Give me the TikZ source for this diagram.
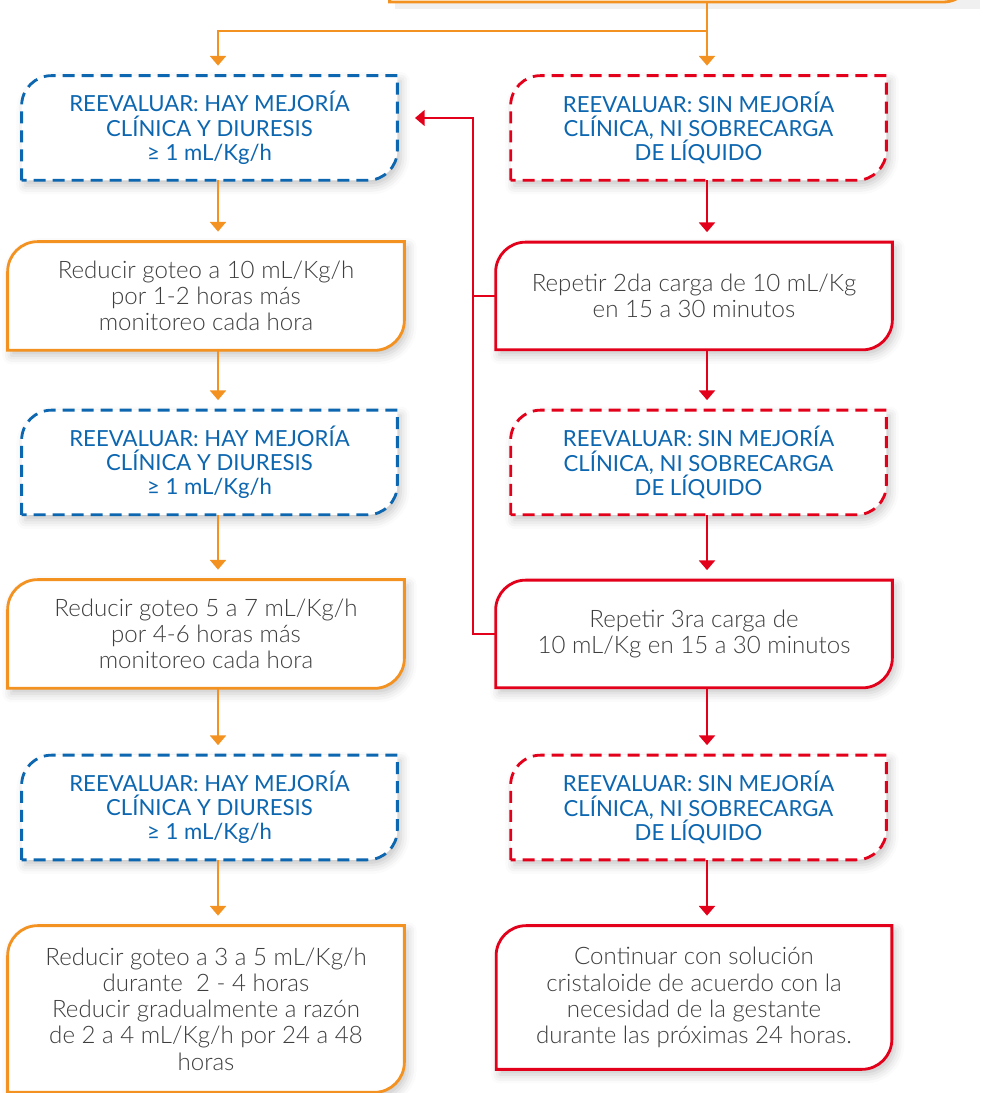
\documentclass[tikz,border=0pt]{standalone}
\usepackage{fontspec}
\setmainfont{Lato}
\newfontfamily\lightfont{Lato Light}
\usepackage{tikz}
\usetikzlibrary{arrows.meta,positioning,shadows.blur}

\definecolor{ordorange}{RGB}{243,146,32}
\definecolor{ordred}{RGB}{226,0,26}
\definecolor{ordblue}{RGB}{12,102,176}
\definecolor{ordgrey}{RGB}{62,62,62}
\definecolor{bgtop}{RGB}{244,249,253}
\definecolor{bgbot}{RGB}{205,232,248}

\pgfdeclarelayer{back}
\pgfdeclarelayer{boxes}
\pgfsetlayers{back,boxes,main}

% outline with rounded top left and bottom right corners
\newcommand{\boxoutline}[2]{%
  \path[#1] (#2.south west) -- ([yshift=-0.6cm]#2.north west)
    arc[start angle=180, end angle=90, radius=0.6cm] -- (#2.north east)
    -- ([yshift=0.6cm]#2.south east)
    arc[start angle=0, end angle=-90, radius=0.6cm] -- cycle;}

\begin{document}
\begin{tikzpicture}[node distance=3.36cm,on grid,
    evalbox/.style={minimum width=7.5cm,minimum height=2.08cm,inner sep=0pt,
      align=center,text=ordblue,font=\fontsize{12.6}{13.8}\selectfont},
    stepbox/.style={minimum width=7.92cm,minimum height=2.16cm,inner sep=0pt,
      align=center,text=ordgrey,font=\lightfont\fontsize{13.7}{14.9}\selectfont},
    shadowed/.style={blur shadow={shadow xshift=2pt,shadow yshift=-3pt,
      shadow blur radius=5pt,shadow opacity=22}},
    blueout/.style={draw=ordblue,line width=1.6pt,dash pattern=on 6.8pt off 4pt,fill=white,shadowed},
    reddash/.style={draw=ordred,line width=1.6pt,dash pattern=on 6.8pt off 4pt,fill=white,shadowed},
    orangeout/.style={draw=ordorange,line width=1.6pt,fill=white,shadowed},
    redout/.style={draw=ordred,line width=1.6pt,fill=white,shadowed},
    topout/.style={draw=ordorange,line width=1.6pt,fill=white},
    oflow/.style={draw=ordorange,line width=1.4pt,-{Triangle[width=9pt,length=5.5pt]},shorten >=0.2cm},
    rflow/.style={draw=ordred,line width=1.4pt,-{Triangle[width=9pt,length=5.5pt]},shorten >=0.2cm},
    rback/.style={draw=ordred,line width=1.1pt}]

  \begin{pgfonlayer}{back}
    \shade[top color=bgtop,bottom color=bgbot] (0,0) rectangle (19.8,21.86);
  \end{pgfonlayer}
  \useasboundingbox (0,0) rectangle (19.8,21.86);

  \node[minimum width=11.66cm,minimum height=1cm] (top) [anchor=south] at (13.63,21.82) {};

  % left column
  \node[evalbox] (l_1) at (4.19,19.30) {REEVALUAR: HAY MEJORÍA\\CLÍNICA Y DIURESIS\\≥ 1 mL/Kg/h};
  \node[stepbox] (l_2) [below=3.36cm of l_1,xshift=-0.07cm] {Reducir goteo a 10 mL/Kg/h\\por 1-2 horas más\\monitoreo cada hora};
  \node[evalbox] (l_3) [below=3.33cm of l_2,xshift=0.07cm] {REEVALUAR: HAY MEJORÍA\\CLÍNICA Y DIURESIS\\≥ 1 mL/Kg/h};
  \node[stepbox] (l_4) [below=3.43cm of l_3,xshift=-0.07cm] {Reducir goteo 5 a 7 mL/Kg/h\\por 4-6 horas más\\monitoreo cada hora};
  \node[evalbox] (l_5) [below=3.47cm of l_4,xshift=0.07cm] {REEVALUAR: HAY MEJORÍA\\CLÍNICA Y DIURESIS\\≥ 1 mL/Kg/h};
  \node[stepbox,minimum height=3.32cm] (l_6) [below=4.03cm of l_5,xshift=-0.07cm] {Reducir goteo a 3 a 5 mL/Kg/h\\durante\ \ 2 - 4 horas\\Reducir gradualmente a razón\\de 2 a 4 mL/Kg/h por 24 a 48\\horas};

  % right column
  \node[evalbox] (r_1) at (13.97,19.30) {REEVALUAR: SIN MEJORÍA\\CLÍNICA, NI SOBRECARGA\\DE LÍQUIDO};
  \node[stepbox,minimum height=2.14cm] (r_2) [below=3.36cm of r_1,xshift=-0.09cm] {Repetir 2da carga de 10 mL/Kg\\en 15 a 30 minutos};
  \node[evalbox] (r_3) [below=3.33cm of r_2,xshift=0.09cm] {REEVALUAR: SIN MEJORÍA\\CLÍNICA, NI SOBRECARGA\\DE LÍQUIDO};
  \node[stepbox,minimum height=2.14cm] (r_4) [below=3.43cm of r_3,xshift=-0.09cm] {Repetir 3ra carga de\\10 mL/Kg en 15 a 30 minutos};
  \node[evalbox] (r_5) [below=3.47cm of r_4,xshift=0.09cm] {REEVALUAR: SIN MEJORÍA\\CLÍNICA, NI SOBRECARGA\\DE LÍQUIDO};
  \node[stepbox,minimum width=7.9cm,minimum height=2.86cm] (r_6) [below=3.80cm of r_5,xshift=-0.09cm] {Continuar con solución\\cristaloide de acuerdo con la\\necesidad de la gestante\\durante las próximas 24 horas.};

  \begin{pgfonlayer}{boxes}
    % first shadow goes off the page
    \path[shadowed] (-6,-6) rectangle (-5,-5);
    \fill[black,opacity=0.06] ([xshift=3pt,yshift=-4pt]top.south west) rectangle ([xshift=4pt]top.north east);
    \boxoutline{topout}{top}
    \foreach \n in {l_1,l_3,l_5} {\boxoutline{blueout}{\n}}
    \foreach \n in {l_2,l_4,l_6} {\boxoutline{orangeout}{\n}}
    \foreach \n in {r_1,r_3,r_5} {\boxoutline{reddash}{\n}}
    \foreach \n in {r_2,r_4,r_6} {\boxoutline{redout}{\n}}
  \end{pgfonlayer}

  \coordinate (lane_l) at (4.36,0);
  \coordinate (lane_r) at (14.14,0);
  \coordinate (split) at (14.14,21.24);
  \coordinate (back_up) at (9.46,19.50);
  \coordinate (back_end) at (8.30,19.50);

  \draw[oflow] (top.south -| lane_r) -- (r_1.north -| lane_r);
  \draw[oflow] (split) -| (l_1.north -| lane_l);
  \draw[oflow] (l_1.south -| lane_l) -- (l_2.north -| lane_l);
  \draw[oflow] (l_2.south -| lane_l) -- (l_3.north -| lane_l);
  \draw[oflow] (l_3.south -| lane_l) -- (l_4.north -| lane_l);
  \draw[oflow] (l_4.south -| lane_l) -- (l_5.north -| lane_l);
  \draw[oflow] (l_5.south -| lane_l) -- (l_6.north -| lane_l);
  \draw[rflow] (r_1.south -| lane_r) -- (r_2.north -| lane_r);
  \draw[rflow] (r_2.south -| lane_r) -- (r_3.north -| lane_r);
  \draw[rflow] (r_3.south -| lane_r) -- (r_4.north -| lane_r);
  \draw[rflow] (r_4.south -| lane_r) -- (r_5.north -| lane_r);
  \draw[rflow] (r_5.south -| lane_r) -- (r_6.north -| lane_r);

  \draw[rback,-{Triangle[width=9pt,length=5.5pt]}] (r_4.west) -| (back_up) -- (back_end);
  \draw[rback] (r_2.west) -- (r_2.west -| back_up);
\end{tikzpicture}
\end{document}
